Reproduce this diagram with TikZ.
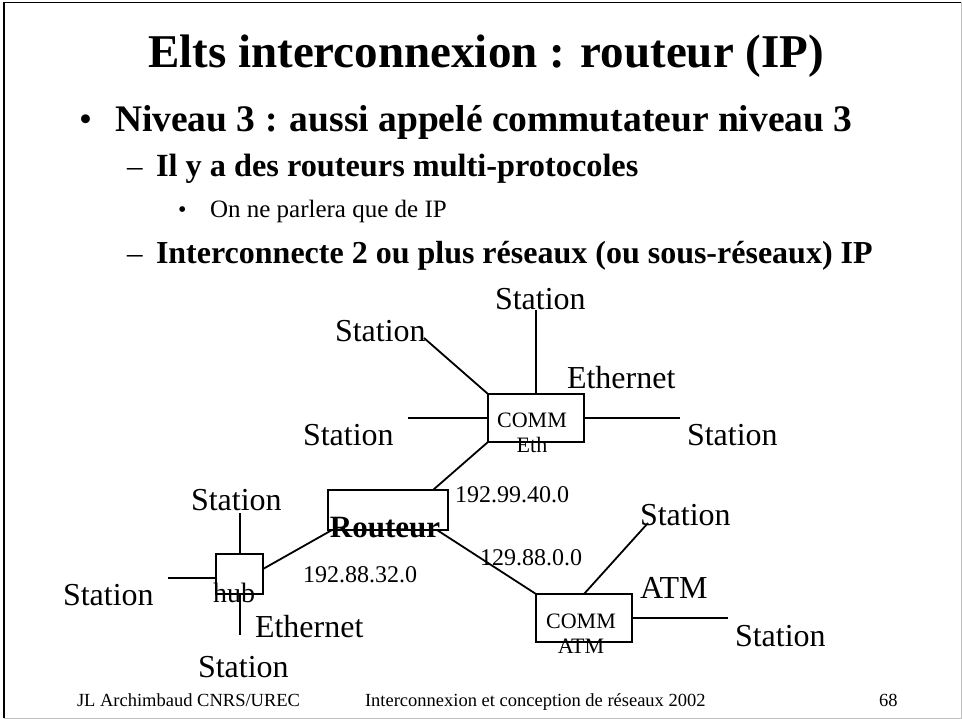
\documentclass[tikz,border=0pt]{standalone}
\usepackage{fontspec}
\setmainfont{Liberation Serif}
\begin{document}
\begin{tikzpicture}[x=1pt,y=-1pt,
  txt/.style={inner sep=0pt,outer sep=0pt},
  lbl/.style={txt,font=\fontsize{32}{36}\selectfont,anchor=base west},
  ipl/.style={txt,font=\fontsize{24}{28}\selectfont,anchor=base west},
  boxtxt/.style={txt,font=\fontsize{22}{25}\selectfont,anchor=base,align=center},
  devbox/.style={draw,line width=1.8pt,inner sep=0pt,outer sep=0pt},
  wire/.style={line width=1.8pt}]
\useasboundingbox (0,0) rectangle (962,719);
% frame
\draw[line width=1.4pt] (4,718) -- (4,2.5) -- (961,2.5);
\draw[line width=1pt,black!25] (961,2.5) -- (961,718) -- (4,718);
% title and bullets
\node[txt,anchor=base,font=\fontsize{47}{52}\selectfont\bfseries] (title) at (486,68) {Elts interconnexion : routeur (IP)};
\node[txt,anchor=base west,font=\fontsize{37}{40}\selectfont] (b1) at (79,131.7) {•};
\node[txt,anchor=base west,font=\fontsize{37.5}{40}\selectfont\bfseries] (t1) at (115,131.7) {Niveau 3 : aussi appelé commutateur niveau 3};
\node[txt,anchor=base west,font=\fontsize{31}{34}\selectfont] (b2) at (127,176.7) {–};
\node[txt,anchor=base west,font=\fontsize{32.3}{34}\selectfont\bfseries] (t2) at (156,176.7) {Il y a des routeurs multi-protocoles};
\node[txt,anchor=base west,font=\fontsize{24}{28}\selectfont] (b3) at (178,218) {•};
\node[txt,anchor=base west,font=\fontsize{25}{28}\selectfont] (t3) at (210,218) {On ne parlera que de IP};
\node[txt,anchor=base west,font=\fontsize{31}{34}\selectfont] (b4) at (127,264) {–};
\node[txt,anchor=base west,font=\fontsize{32}{34}\selectfont\bfseries] (t4) at (156,264) {Interconnecte 2 ou plus réseaux (ou sous-réseaux) IP};
% devices
\node[devbox,minimum width=96pt,minimum height=48pt] (eth) at (536,418) {};
\node[boxtxt] (ethtxt) at (532,453) {COMM\\Eth};
\node[devbox,minimum width=120pt,minimum height=40pt] (rtr) at (388,510) {};
\node[txt,anchor=base,font=\fontsize{31}{34}\selectfont\bfseries] (rtrtxt) at (385,537) {Routeur};
\node[devbox,minimum width=47pt,minimum height=40pt] (hub) at (239.5,574) {};
\node[txt,anchor=base west,font=\fontsize{28}{30}\selectfont] (hubtxt) at (213,602) {hub};
\node[devbox,minimum width=96pt,minimum height=48pt] (atm) at (584,618) {};
\node[boxtxt] (atmtxt) at (581,653) {COMM\\ATM};
% labels
\node[lbl] (s1) at (495,310) {Station};
\node[lbl] (s2) at (335,342) {Station};
\node[lbl] (s3) at (303,446) {Station};
\node[lbl] (s4) at (687,446) {Station};
\node[lbl] (ethlbl) at (567,389) {Ethernet};
\node[lbl] (s5) at (191,510) {Station};
\node[lbl] (s6) at (63,605) {Station};
\node[lbl] (ethlbl2) at (255,637) {Ethernet};
\node[lbl] (s7) at (198,677) {Station};
\node[lbl] (s8) at (640,525) {Station};
\node[lbl] (atmlbl) at (640,598) {ATM};
\node[lbl] (s9) at (735,646) {Station};
\node[ipl] (ip1) at (455,502) {192.99.40.0};
\node[ipl] (ip2) at (303,582) {192.88.32.0};
\node[ipl] (ip3) at (480,565) {129.88.0.0};
% footer
\node[txt,anchor=base west,font=\fontsize{18.5}{20}\selectfont] (f1) at (77,706) {JL Archimbaud CNRS/UREC};
\node[txt,anchor=base west,font=\fontsize{18.5}{20}\selectfont] (f2) at (365,706) {Interconnexion et conception de réseaux 2002};
\node[txt,anchor=base west,font=\fontsize{18.5}{20}\selectfont] (f3) at (879,706) {68};
% wire ends
\coordinate (e1) at (536,310);
\coordinate (e2) at (424,338);
\coordinate (e3) at (408,418);
\coordinate (e4) at (680,418);
\coordinate (h1) at (240,513);
\coordinate (h2) at (168,578);
\coordinate (h3) at (240,635);
\coordinate (a1) at (648,523);
\coordinate (a2) at (728,618);
% wires
\draw[wire] (eth.north) -- (e1);
\draw[wire] (eth.north west) -- (e2);
\draw[wire] (eth.west) -- (e3);
\draw[wire] (eth.east) -- (e4);
\draw[wire] (eth.south west) -- (rtr.north east -| 433,0);
\draw[wire] (rtr.south west -| 332,0) -- (hub.east |- 0,569);
\draw[wire] (rtr.south east -| 437,0) -- (atm.north west);
\draw[wire] (hub.north -| 240,0) -- (h1);
\draw[wire] (hub.west |- 0,578) -- (h2);
\draw[wire] (hub.south -| 240,0) -- (h3);
\draw[wire] (atm.north) -- (a1);
\draw[wire] (atm.east) -- (a2);
\end{tikzpicture}
\end{document}
